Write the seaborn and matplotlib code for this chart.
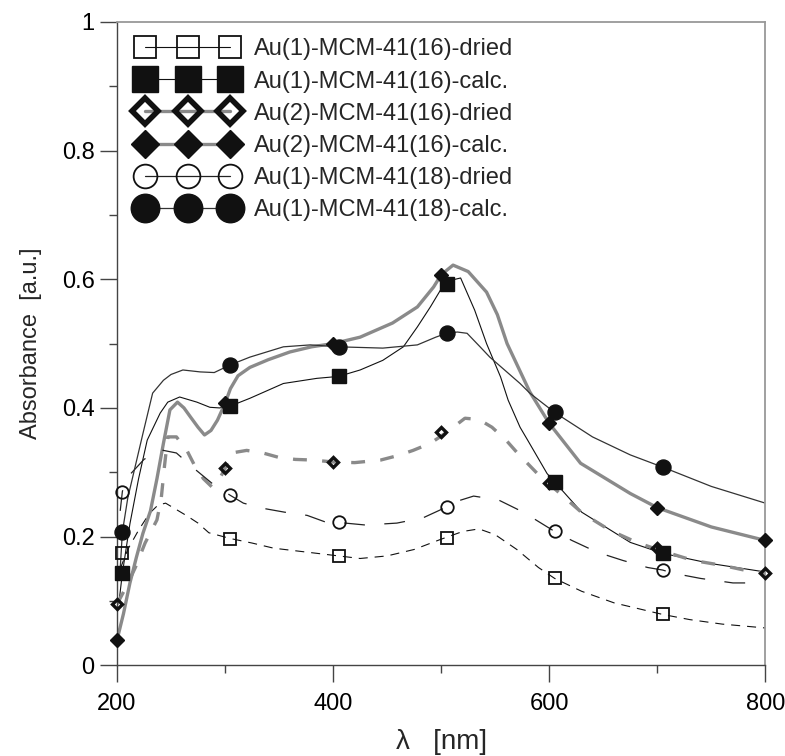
import numpy as np
import pandas as pd
import seaborn as sns
import matplotlib
matplotlib.use("Agg")
from matplotlib import pyplot as plt
from matplotlib.lines import Line2D
from matplotlib.ticker import MultipleLocator, FixedLocator

# Au(1)-MCM-41(16)-dried
wl_a1d = [203, 210, 220, 230, 238, 245, 255, 265, 275, 285, 305, 325, 345, 365, 385, 405, 425, 450, 475,
          500, 520, 535, 550, 570, 590, 605, 630, 660, 690, 705, 730, 760, 800]
ab_a1d = [0.15, 0.18, 0.21, 0.236, 0.249, 0.252, 0.242, 0.232, 0.221, 0.206, 0.197, 0.19, 0.182, 0.178, 0.174,
          0.17, 0.166, 0.17, 0.18, 0.196, 0.208, 0.212, 0.203, 0.18, 0.152, 0.135, 0.115, 0.097, 0.085, 0.079,
          0.071, 0.064, 0.058]
mk_a1d_x = [205, 305, 405, 505, 605, 705]
mk_a1d_y = [0.174, 0.197, 0.17, 0.198, 0.135, 0.079]

# Au(1)-MCM-41(16)-calc.
wl_a1c = [202, 205, 212, 220, 228, 240, 247, 258, 274, 286, 295, 305, 323, 354, 385, 405, 425, 446, 465, 478,
          490, 500, 508, 518, 531, 542, 555, 562, 573, 580, 598, 605, 630, 675, 705, 750, 800]
ab_a1c = [0.10, 0.143, 0.22, 0.29, 0.35, 0.392, 0.409, 0.417, 0.409, 0.401, 0.40, 0.403, 0.415, 0.438, 0.446,
          0.449, 0.459, 0.474, 0.495, 0.526, 0.557, 0.585, 0.598, 0.602, 0.552, 0.50, 0.448, 0.412, 0.37, 0.35,
          0.298, 0.285, 0.238, 0.191, 0.174, 0.158, 0.145]
mk_a1c_x = [205, 305, 405, 505, 605, 705]
mk_a1c_y = [0.143, 0.403, 0.449, 0.593, 0.285, 0.174]

# Au(2)-MCM-41(16)-dried
wl_a2d = [200, 208, 217, 226, 237, 241, 244, 247, 255, 265, 272, 280, 288, 295, 300, 306, 320, 335, 350, 365,
          381, 400, 420, 444, 460, 474, 490, 505, 522, 535, 547, 560, 570, 589, 610, 631, 656, 681, 700, 733,
          761, 786, 800]
ab_a2d = [0.095, 0.12, 0.152, 0.19, 0.226, 0.26, 0.31, 0.355, 0.355, 0.333, 0.31, 0.29, 0.277, 0.29, 0.306,
          0.33, 0.334, 0.33, 0.323, 0.32, 0.319, 0.316, 0.315, 0.319, 0.326, 0.334, 0.345, 0.362, 0.384, 0.382,
          0.37, 0.35, 0.331, 0.298, 0.267, 0.236, 0.21, 0.191, 0.18, 0.163, 0.155, 0.146, 0.143]
mk_a2d_x = [200, 300, 400, 500, 600, 700, 800]
mk_a2d_y = [0.095, 0.306, 0.316, 0.362, 0.283, 0.183, 0.143]

# Au(2)-MCM-41(16)-calc.
wl_a2c = [200, 206, 212, 218, 224, 231, 237, 243, 249, 256, 262, 268, 275, 281, 287, 293, 300, 305, 312, 323,
          340, 360, 380, 400, 425, 455, 478, 493, 500, 511, 525, 542, 552, 561, 582, 600, 629, 675, 700, 750, 800]
ab_a2c = [0.039, 0.08, 0.128, 0.168, 0.205, 0.24, 0.29, 0.345, 0.397, 0.409, 0.40, 0.386, 0.37, 0.358, 0.365,
          0.381, 0.407, 0.43, 0.45, 0.463, 0.475, 0.487, 0.495, 0.50, 0.51, 0.532, 0.557, 0.588, 0.607, 0.622,
          0.612, 0.58, 0.545, 0.50, 0.425, 0.376, 0.314, 0.267, 0.245, 0.215, 0.194]
mk_a2c_x = [200, 300, 400, 500, 600, 700, 800]
mk_a2c_y = [0.039, 0.407, 0.50, 0.607, 0.376, 0.245, 0.194]

# Au(1)-MCM-41(18)-dried
wl_b1d = [203, 205, 208, 214, 225, 240, 255, 272, 290, 305, 317, 335, 355, 376, 394, 405, 430, 459, 483, 505,
          511, 530, 553, 576, 605, 621, 644, 668, 691, 705, 715, 740, 770, 790]
ab_b1d = [0.24, 0.27, 0.29, 0.30, 0.32, 0.335, 0.33, 0.305, 0.28, 0.264, 0.252, 0.244, 0.238, 0.233, 0.222,
          0.222, 0.218, 0.221, 0.229, 0.246, 0.253, 0.263, 0.257, 0.238, 0.208, 0.194, 0.176, 0.163, 0.152,
          0.148, 0.143, 0.135, 0.128, 0.128]
mk_b1d_x = [205, 305, 405, 505, 605, 705]
mk_b1d_y = [0.27, 0.264, 0.222, 0.246, 0.208, 0.148]

# Au(1)-MCM-41(18)-calc.
wl_b1c = [203, 205, 210, 217, 224, 233, 243, 250, 261, 277, 290, 305, 323, 354, 379, 405, 446, 478, 495, 505,
          515, 524, 536, 545, 573, 582, 605, 640, 675, 705, 750, 800]
ab_b1c = [0.15, 0.207, 0.26, 0.31, 0.36, 0.423, 0.443, 0.452, 0.459, 0.456, 0.455, 0.467, 0.479, 0.495, 0.498,
          0.495, 0.493, 0.498, 0.51, 0.516, 0.518, 0.516, 0.495, 0.479, 0.438, 0.423, 0.393, 0.355, 0.327,
          0.308, 0.278, 0.252]
mk_b1c_x = [205, 305, 405, 505, 605, 705]
mk_b1c_y = [0.207, 0.467, 0.495, 0.517, 0.393, 0.308]

labels = ["Au(1)-MCM-41(16)-dried", "Au(1)-MCM-41(16)-calc.", "Au(2)-MCM-41(16)-dried",
          "Au(2)-MCM-41(16)-calc.", "Au(1)-MCM-41(18)-dried", "Au(1)-MCM-41(18)-calc."]

sns.set_style("white")
plt.rcParams['font.family'] = ['Liberation Sans', 'DejaVu Sans']
plt.rcParams['lines.scale_dashes'] = False

fig = plt.figure(figsize=(7.85, 7.56), dpi=100)
ax = fig.add_axes([0.149, 0.120, 0.826, 0.851])

black = '#111111'
grey = '#8a8a8a'

# (wl, ab, mkx, mky, line color, lw, linestyle, marker, ms, face, mew)
series = [
    (wl_a1d, ab_a1d, mk_a1d_x, mk_a1d_y, black, 0.8, (0, (6.5, 5)), 's', 8, 'none', 1.3),
    (wl_a1c, ab_a1c, mk_a1c_x, mk_a1c_y, black, 0.8, '-', 's', 9.5, black, 1.0),
    (wl_a2d, ab_a2d, mk_a2d_x, mk_a2d_y, grey, 2.4, (0, (10, 11)), 'D', 5.4, 'none', 2.4),
    (wl_a2c, ab_a2c, mk_a2c_x, mk_a2c_y, grey, 2.4, '-', 'D', 7.6, black, 1.0),
    (wl_b1d, ab_b1d, mk_b1d_x, mk_b1d_y, '#222222', 0.9, (0, (15, 14)), 'o', 9, 'none', 1.3),
    (wl_b1c, ab_b1c, mk_b1c_x, mk_b1c_y, '#333333', 0.9, '-', 'o', 10.8, black, 1.0),
]

handles = []
for (wl, ab, mx, my, col, lw, ls, mk, ms, fc, mew), lab in zip(series, labels):
    df = pd.DataFrame({'wl': wl, 'ab': ab})
    sns.lineplot(data=df, x='wl', y='ab', ax=ax, color=col, linewidth=lw, linestyle=ls,
                 estimator=None, sort=False, zorder=2)
    ax.plot(mx, my, linestyle='none', marker=mk, markersize=ms, markerfacecolor=fc,
            markeredgecolor=black, markeredgewidth=mew, zorder=4, clip_on=False)
    # legend entry: solid line; open diamond is bigger with a heavy edge
    open_diamond = (mk == 'D' and fc == 'none')
    handles.append(Line2D([0], [0], color=col, linewidth=lw, marker=mk,
                          markersize=7.0 if open_diamond else ms,
                          markerfacecolor=fc, markeredgecolor=black,
                          markeredgewidth=4.0 if open_diamond else mew))

ax.set_xlim(200, 800)
ax.set_ylim(0, 1)
ax.xaxis.set_major_locator(FixedLocator([200, 400, 600, 800]))
ax.xaxis.set_minor_locator(MultipleLocator(100))
ax.yaxis.set_major_locator(FixedLocator([0, 0.2, 0.4, 0.6, 0.8, 1.0]))
ax.yaxis.set_minor_locator(MultipleLocator(0.1))
ax.set_yticklabels(['0', '0.2', '0.4', '0.6', '0.8', '1'])
ax.set_xticklabels(['200', '400', '600', '800'])
ax.tick_params(axis='both', which='major', direction='out', length=12, width=1, color='#444444',
               labelsize=17, labelcolor='black')
ax.tick_params(axis='x', which='major', pad=8)
ax.tick_params(axis='y', which='major', pad=4)
ax.tick_params(axis='both', which='minor', direction='out', length=6, width=1, color='#444444')
ax.tick_params(axis='x', which='both', bottom=True)
ax.tick_params(axis='y', which='both', left=True)

for s in ['left', 'bottom']:
    ax.spines[s].set_color('#444444')
    ax.spines[s].set_linewidth(1.0)
for s in ['top', 'right']:
    ax.spines[s].set_color('#999999')
    ax.spines[s].set_linewidth(1.3)

ax.set_xlabel('λ   [nm]', fontsize=20, labelpad=10)
ax.set_ylabel('Absorbance  [a.u.]', fontsize=17, labelpad=14)

leg = ax.legend(handles, labels, loc='upper left', bbox_to_anchor=(0.007, 1.0), frameon=False,
                numpoints=3, markerscale=1.9, fontsize=17, handlelength=4.2, handletextpad=0.7,
                labelspacing=0.43, borderaxespad=0.3)

fig.savefig('out.png', dpi=100)
